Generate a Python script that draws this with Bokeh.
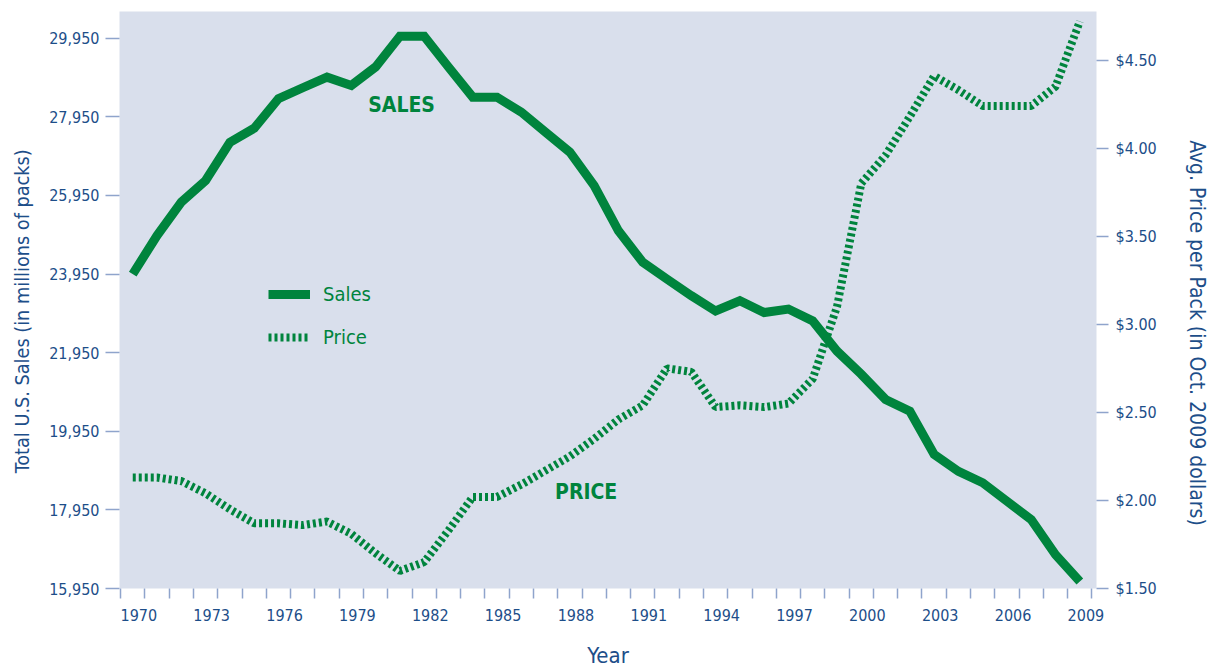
from bokeh.plotting import figure
from bokeh.models import (Range1d, LinearAxis, FixedTicker, NumeralTickFormatter,
                          Legend, LegendItem, Label)
from bokeh.embed import file_html
from bokeh.resources import INLINE

years = list(range(1970, 2010))
sales = [23950, 24930, 25780, 26330, 27300, 27660, 28410, 28690, 28960, 28750,
         29220, 30000, 30000, 29220, 28450, 28450, 28070, 27560, 27050, 26200,
         25050, 24250, 23820, 23400, 23010, 23270, 22970, 23060, 22760, 21990,
         21400, 20760, 20460, 19360, 18930, 18640, 18170, 17700, 16810, 16130]
price = [2.13, 2.13, 2.11, 2.04, 1.95, 1.87, 1.87, 1.86, 1.88, 1.81,
         1.70, 1.60, 1.65, 1.83, 2.02, 2.02, 2.09, 2.17, 2.25, 2.35,
         2.46, 2.54, 2.75, 2.73, 2.53, 2.54, 2.53, 2.55, 2.69, 3.10,
         3.80, 3.96, 4.18, 4.41, 4.33, 4.24, 4.24, 4.24, 4.35, 4.72]
sales_ticks = [15950, 17950, 19950, 21950, 23950, 25950, 27950, 29950]
price_ticks = [1.50, 2.00, 2.50, 3.00, 3.50, 4.00, 4.50]
year_labels = [1970, 1973, 1976, 1979, 1982, 1985, 1988, 1991, 1994, 1997,
               2000, 2003, 2006, 2009]

GREEN = "#00843D"
BG = "#D9DFEC"
TXT = "#1D4E89"
TICK = "#8FA4CC"
FONT = "DejaVu Sans Condensed"
NB = "\u00a0"

p = figure(width=1211, height=672, output_backend="svg", toolbar_location=None,
           x_range=Range1d(1969.454, 2009.686), y_range=Range1d(15950, 30630),
           min_border_left=119, min_border_right=111, min_border_top=11,
           min_border_bottom=84)
p.extra_y_ranges = {"price": Range1d(1.5, 4.776)}
p.background_fill_color = BG
p.border_fill_color = "white"
p.outline_line_color = None
p.grid.visible = False

r_sales = p.line(years, sales, line_color=GREEN, line_width=9, line_join="miter")
r_price = p.line(years, price, line_color=GREEN, line_width=8, line_dash="3 3",
                 y_range_name="price")

# x axis
xa = p.xaxis[0]
xa.ticker = FixedTicker(ticks=[y + 0.25 for y in year_labels],
                        minor_ticks=[y - 0.5 for y in years] + [years[-1] + 0.5])
xa.major_label_overrides = {y + 0.25: str(y) for y in year_labels}
xa.major_tick_out = 0
xa.major_tick_in = 0
xa.minor_tick_out = 10
xa.minor_tick_in = 0
xa.minor_tick_line_color = TICK
xa.minor_tick_line_width = 1.5
xa.axis_line_color = None
xa.major_label_standoff = 10
xa.axis_label = "Year"
xa.axis_label_standoff = 19
xa.axis_label_text_font_size = "22px"

# left axis
ya = p.yaxis[0]
ya.ticker = FixedTicker(ticks=sales_ticks)
ya.formatter = NumeralTickFormatter(format="0,0")
ya.major_tick_out = 14
ya.major_tick_in = 0
ya.major_tick_line_color = TICK
ya.major_tick_line_width = 1.5
ya.minor_tick_line_color = None
ya.axis_line_color = None
ya.major_label_standoff = 6
ya.axis_label = "Total U.S. Sales (in millions of packs)" + NB * 4
ya.axis_label_standoff = 12
ya.axis_label_text_font_size = "19.7px"

# right axis
ra = LinearAxis(y_range_name="price", ticker=FixedTicker(ticks=price_ticks),
                formatter=NumeralTickFormatter(format="$0.00"))
ra.major_tick_out = 12
ra.major_tick_in = 0
ra.major_tick_line_color = TICK
ra.major_tick_line_width = 1.5
ra.minor_tick_line_color = None
ra.axis_line_color = None
ra.major_label_standoff = 7
ra.axis_label = NB * 11 + "Avg. Price per Pack (in Oct. 2009 dollars)"
ra.axis_label_standoff = 25
ra.axis_label_text_font_size = "21px"
p.add_layout(ra, "right")

for ax in (xa, ya, ra):
    ax.major_label_text_font = FONT
    ax.major_label_text_font_size = "16px"
    ax.major_label_text_color = TXT
    ax.axis_label_text_font = FONT
    ax.axis_label_text_font_style = "normal"
    ax.axis_label_text_color = TXT

# annotations
p.add_layout(Label(x=1981.07, y=28250, text="SALES", text_align="center",
                   text_baseline="middle", text_font=FONT, text_font_style="bold",
                   text_font_size="21px", text_color=GREEN))
p.add_layout(Label(x=1988.67, y=2.05, y_range_name="price", text="PRICE",
                   text_align="center", text_baseline="middle", text_font=FONT,
                   text_font_style="bold", text_font_size="21px", text_color=GREEN))

legend = Legend(items=[LegendItem(label="Sales", renderers=[r_sales]),
                       LegendItem(label="Price", renderers=[r_price])],
                location=(149, 239), background_fill_alpha=0, border_line_color=None,
                padding=0, margin=0, glyph_width=42, glyph_height=20, label_height=20,
                spacing=19, label_standoff=13, label_text_font=FONT,
                label_text_font_size="20px", label_text_color=GREEN)
p.add_layout(legend)

open("out.html", "w").write(file_html(p, INLINE))
